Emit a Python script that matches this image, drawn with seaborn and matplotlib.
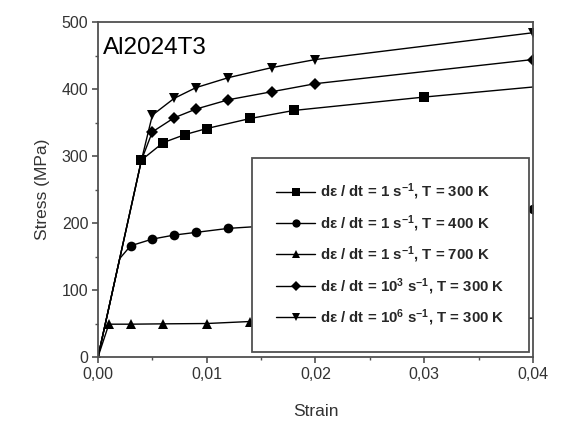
import matplotlib
matplotlib.use("Agg")
import matplotlib.pyplot as plt
import seaborn as sns
from matplotlib.ticker import MultipleLocator, FixedLocator, FixedFormatter

sns.set_style("ticks")
plt.rcParams['font.family'] = ['Liberation Sans', 'DejaVu Sans']
plt.rcParams['mathtext.fontset'] = 'custom'
plt.rcParams['mathtext.rm'] = 'Liberation Sans:bold'
plt.rcParams['mathtext.bf'] = 'Liberation Sans:bold'
plt.rcParams['mathtext.it'] = 'Liberation Sans:bold'
plt.rcParams['mathtext.default'] = 'bf'

# Data (strain, stress in MPa); first points are unmarked elastic segment
s1_strain = [0.0, 0.004, 0.006, 0.008, 0.010, 0.014, 0.018, 0.030, 0.040]
s1_stress = [0, 294, 320, 332, 341, 356, 368, 388, 403]
s1_marks = [1, 2, 3, 4, 5, 6, 7]

s2_strain = [0.0, 0.002, 0.003, 0.005, 0.007, 0.009, 0.012, 0.040]
s2_stress = [0, 147, 166, 176, 182, 186, 192, 221]
s2_marks = [2, 3, 4, 5, 6, 7]

s3_strain = [0.0, 0.001, 0.003, 0.006, 0.010, 0.014, 0.040]
s3_stress = [0, 49, 49, 49.5, 50, 53, 58]
s3_marks = [0, 1, 2, 3, 4, 5]

s4_strain = [0.0, 0.004, 0.005, 0.007, 0.009, 0.012, 0.016, 0.020, 0.040]
s4_stress = [0, 294, 336, 357, 370, 384, 396, 408, 444]
s4_marks = [2, 3, 4, 5, 6, 7, 8]

s5_strain = [0.0, 0.004, 0.005, 0.007, 0.009, 0.012, 0.016, 0.020, 0.040]
s5_stress = [0, 294, 361, 386, 402, 417, 432, 444, 484]
s5_marks = [2, 3, 4, 5, 6, 7, 8]

labels = [
    "d\u03b5 / dt = 1 s$^{-1}$, T = 300 K",
    "d\u03b5 / dt = 1 s$^{-1}$, T = 400 K",
    "d\u03b5 / dt = 1 s$^{-1}$, T = 700 K",
    "d\u03b5 / dt = 10$^{3}$ s$^{-1}$, T = 300 K",
    "d\u03b5 / dt = 10$^{6}$ s$^{-1}$, T = 300 K",
]
markers = ['s', 'o', '^', 'D', 'v']
msizes = [6.5, 7, 7, 6, 7]

x_ticks = [0.0, 0.01, 0.02, 0.03, 0.04]
x_ticklabels = ["0,00", "0,01", "0,02", "0,03", "0,04"]
y_ticks = [0, 100, 200, 300, 400, 500]

series = [
    (s1_strain, s1_stress, s1_marks),
    (s2_strain, s2_stress, s2_marks),
    (s3_strain, s3_stress, s3_marks),
    (s4_strain, s4_stress, s4_marks),
    (s5_strain, s5_stress, s5_marks),
]

fig = plt.figure(figsize=(5.67, 4.29), dpi=100)
ax = fig.add_axes([0.1728, 0.1678, 0.7672, 0.7809])

for (xs, ys, mk), lab, m, ms in zip(series, labels, markers, msizes):
    sns.lineplot(x=xs, y=ys, ax=ax, color='black', linewidth=1.0,
                 marker=m, markersize=ms, markevery=mk, markeredgewidth=0,
                 label=lab, sort=False, estimator=None)

ax.set_xlim(0, 0.04)
ax.set_ylim(0, 500)
ax.xaxis.set_major_locator(FixedLocator(x_ticks))
ax.xaxis.set_major_formatter(FixedFormatter(x_ticklabels))
ax.xaxis.set_minor_locator(MultipleLocator(0.005))
ax.yaxis.set_major_locator(FixedLocator(y_ticks))
ax.yaxis.set_minor_locator(MultipleLocator(50))

spine_col = '#505050'
for sp in ax.spines.values():
    sp.set_visible(True)
    sp.set_color(spine_col)
    sp.set_linewidth(1.3)
ax.tick_params(which='major', direction='out', length=4, width=1.2,
               color=spine_col, labelsize=11.5, labelcolor='#333333', pad=3)
ax.tick_params(which='minor', direction='out', length=2.5, width=1.0,
               color=spine_col)

ax.set_xlabel("Strain", fontsize=12.5, color='#333333', labelpad=16)
ax.set_ylabel("Stress (MPa)", fontsize=12.5, color='#333333', labelpad=8)

ax.text(0.012, 0.955, "Al2024T3", transform=ax.transAxes, fontsize=17.5,
        color='black', va='top', ha='left')

leg = ax.legend(loc='lower right', bbox_to_anchor=(0.991, 0.015),
                borderaxespad=0, frameon=True, fancybox=False,
                prop={'weight': 'bold', 'size': 10.8}, handlelength=2.6,
                handletextpad=0.35, labelspacing=0.72, borderpad=1.6,
                markerscale=0.85)
leg.get_frame().set_edgecolor('#505050')
leg.get_frame().set_linewidth(1.3)
leg.get_frame().set_alpha(1)

fig.savefig("out.png", dpi=100, facecolor='white')
